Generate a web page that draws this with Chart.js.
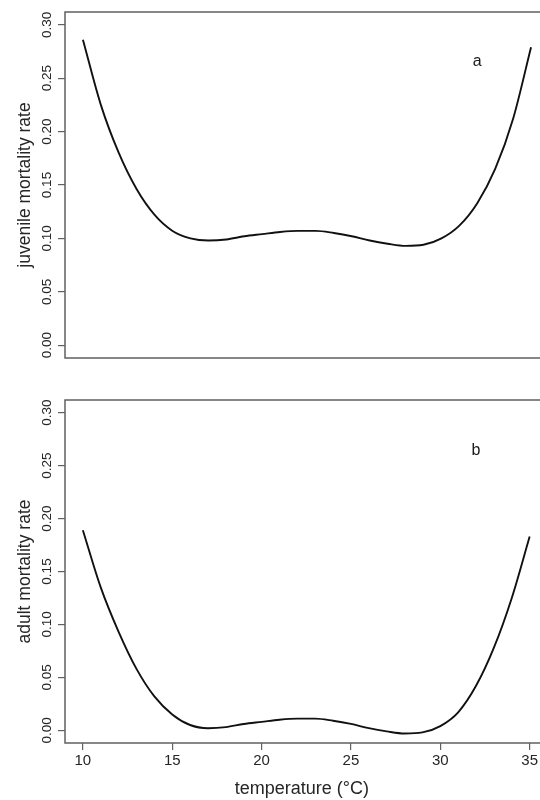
<!DOCTYPE html>
<html>
<head>
<meta charset="utf-8">
<script src="https://cdn.jsdelivr.net/npm/chart.js@4"></script>
<style>
  html, body { margin: 0; padding: 0; background: #fff; }
  #wrap { width: 540px; height: 800px; position: relative; }
  #c1 { position: absolute; left: 0; top: 0; }
  #c2 { position: absolute; left: 0; top: 390px; }
</style>
</head>
<body>
<div id="wrap">
  <canvas id="c1" width="540" height="390"></canvas>
  <canvas id="c2" width="540" height="410"></canvas>
</div>
<script>
// temperature (°C)
const temperature = [10,11,12,13,14,15,16,17,18,19,20,21,22,23,24,25,26,27,28,29,30,31,32,33,34,35];
// juvenile mortality rate (panel a)
const juvenileMortality = [0.286,0.225,0.180,0.146,0.122,0.107,0.100,0.098,0.099,0.102,0.104,0.106,0.107,0.107,0.105,0.102,0.098,0.095,0.093,0.094,0.100,0.112,0.133,0.165,0.212,0.279];
// adult mortality rate (panel b)
const adultMortality = [0.189,0.135,0.093,0.058,0.032,0.015,0.005,0.002,0.003,0.006,0.008,0.010,0.011,0.011,0.009,0.006,0.002,-0.001,-0.003,-0.002,0.004,0.017,0.042,0.078,0.125,0.183];
// tick labels
const yTicks = [0, 0.05, 0.10, 0.15, 0.20, 0.25, 0.30];
const xTicks = [10, 15, 20, 25, 30, 35];
const panelLabels = ['a', 'b'];
const yTitles = ['juvenile mortality rate', 'adult mortality rate'];
const xTitle = 'temperature (\u00B0C)';

const FONT = "'Liberation Sans', Arial, sans-serif";
const TEXT = '#262626';
const AXIS = '#606060';

function boxPlugin(label) {
  return {
    id: 'box',
    afterDatasetsDraw(chart) {
      const {ctx, chartArea: a, scales} = chart;
      ctx.save();
      ctx.strokeStyle = AXIS;
      ctx.lineWidth = 1.5;
      ctx.beginPath();
      ctx.moveTo(a.right + 2, a.top);
      ctx.lineTo(a.left, a.top);
      ctx.lineTo(a.left, a.bottom);
      ctx.lineTo(a.right + 2, a.bottom);
      ctx.stroke();
      ctx.fillStyle = '#1a1a1a';
      ctx.font = '16px ' + FONT;
      ctx.textAlign = 'center';
      ctx.textBaseline = 'middle';
      ctx.fillText(label.text, scales.x.getPixelForValue(label.x), scales.y.getPixelForValue(label.y));
      ctx.restore();
    }
  };
}

function makeChart(canvasId, values, opts) {
  const showX = opts.showX;
  return new Chart(document.getElementById(canvasId), {
    type: 'line',
    data: {
      labels: temperature,
      datasets: [{
        data: temperature.map((t, i) => ({x: t, y: values[i]})),
        borderColor: '#111',
        borderWidth: 1.9,
        pointRadius: 0,
        fill: false,
        cubicInterpolationMode: 'monotone'
      }]
    },
    options: {
      responsive: false,
      animation: false,
      layout: { padding: { top: opts.padTop, bottom: opts.padBottom, left: 0, right: 0 } },
      plugins: { legend: { display: false }, tooltip: { enabled: false } },
      scales: {
        x: {
          type: 'linear',
          min: 9, max: 35.5,
          display: showX,
          afterBuildTicks: s => { s.ticks = xTicks.map(v => ({value: v})); },
          afterFit: s => { if (showX) s.height = 57; },
          grid: { display: true, drawOnChartArea: false, drawTicks: true, tickLength: 7, color: AXIS, lineWidth: 1.2 },
          border: { display: false },
          ticks: { color: TEXT, font: { family: FONT, size: 15 }, padding: 2, maxRotation: 0, minRotation: 0, callback: v => String(v) },
          title: { display: true, text: xTitle, color: TEXT, font: { family: FONT, size: 18, lineHeight: 1.2 }, padding: { top: 0, bottom: 0 } }
        },
        y: {
          type: 'linear',
          min: -0.012, max: 0.312,
          afterBuildTicks: s => { s.ticks = yTicks.map(v => ({value: v})); },
          afterFit: s => { s.width = 65; },
          grid: { display: true, drawOnChartArea: false, drawTicks: true, tickLength: 7, color: AXIS, lineWidth: 1.2 },
          border: { display: false },
          ticks: { color: TEXT, font: { family: FONT, size: 13.5 }, padding: -2, minRotation: 90, maxRotation: 90, crossAlign: 'center', callback: v => v.toFixed(2) },
          title: { display: true, text: opts.yTitle, color: TEXT, font: { family: FONT, size: 17.5, lineHeight: 1.2 }, padding: { top: 15, bottom: 0 } }
        }
      }
    },
    plugins: [boxPlugin(opts.label)]
  });
}

makeChart('c1', juvenileMortality, { showX: false, padTop: 12, padBottom: 32, yTitle: yTitles[0], label: { text: panelLabels[0], x: 32, y: 0.266 } });
makeChart('c2', adultMortality, { showX: true, padTop: 10, padBottom: 0, yTitle: yTitles[1], label: { text: panelLabels[1], x: 32, y: 0.264 } });
</script>
</body>
</html>
